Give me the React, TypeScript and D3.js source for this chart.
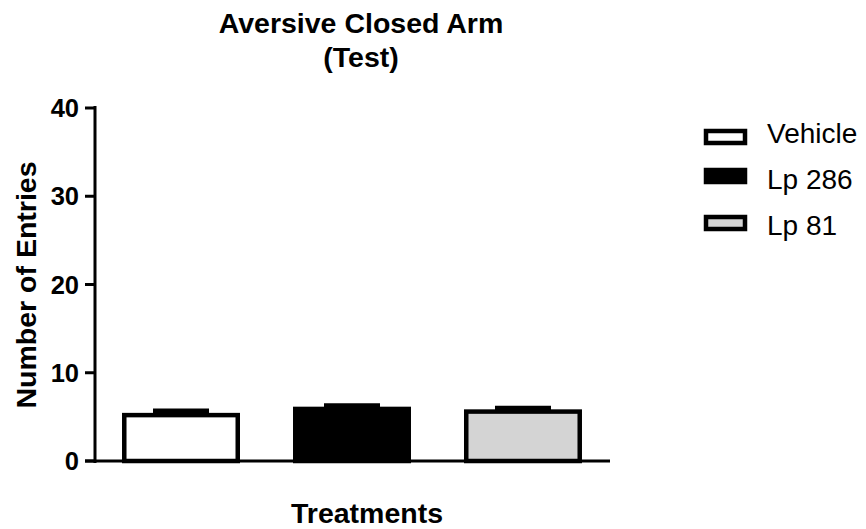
import React from "react";
import * as d3 from "d3";

const categories = ["Vehicle", "Lp 286", "Lp 81"];
const means = [5.2, 5.9, 5.6];
const sems = [0.5, 0.4, 0.4];
const fills = ["#ffffff", "#000000", "#d4d4d4"];
const yTicks = [0, 10, 20, 30, 40];

const W = 866;
const H = 529;
const font = "'Liberation Sans', Arial, Helvetica, sans-serif";

export default function App() {
  const y = d3.scaleLinear().domain([0, 40]).range([461, 108]);
  const x = d3.scaleBand().domain(categories).range([95, 609]).paddingInner(0.31).paddingOuter(0.158);
  const sw = 4.5;
  const capW = 56;
  const legendY = [137, 176, 223];
  const legendBase = [143, 189, 235];
  return (
    <svg width={W} height={H} style={{ position: "absolute", left: 0, top: 0, background: "#fff" }} fontFamily={font}>
      <text x={361} y={33} textAnchor="middle" fontSize={28.5} fontWeight="bold">Aversive Closed Arm</text>
      <text x={361} y={67} textAnchor="middle" fontSize={28.5} fontWeight="bold">(Test)</text>
      {/* bars */}
      {categories.map((c, i) => {
        const x0 = x(c)!;
        const bw = x.bandwidth();
        const cx = x0 + bw / 2;
        const top = y(means[i]);
        const et = y(means[i] + sems[i]);
        return (
          <g key={c}>
            <line x1={cx} x2={cx} y1={top} y2={et} stroke="#000" strokeWidth={3} />
            <line x1={cx - capW / 2} x2={cx + capW / 2} y1={et} y2={et} stroke="#000" strokeWidth={4.5} />
            <rect x={x0 + sw / 2} y={top} width={bw - sw} height={y(0) - top} fill={fills[i]} stroke="#000" strokeWidth={sw} />
          </g>
        );
      })}
      {/* y axis */}
      <line x1={95} x2={95} y1={106} y2={463} stroke="#000" strokeWidth={3} />
      {yTicks.map((t) => (
        <g key={t}>
          <line x1={85} x2={95} y1={y(t)} y2={y(t)} stroke="#000" strokeWidth={3} />
          <text x={79} y={y(t) + 9} textAnchor="end" fontSize={25.5} fontWeight="bold">{t}</text>
        </g>
      ))}
      {/* x axis */}
      <line x1={85} x2={610} y1={461} y2={461} stroke="#000" strokeWidth={3} />
      <text x={367} y={523} textAnchor="middle" fontSize={28.5} fontWeight="bold">Treatments</text>
      <text transform={`translate(36,285) rotate(-90)`} textAnchor="middle" fontSize={28.5} fontWeight="bold">Number of Entries</text>
      {/* legend */}
      {categories.map((c, i) => (
        <g key={"lg" + c}>
          <rect x={706} y={legendY[i] - 6} width={39} height={12} fill={fills[i]} stroke="#000" strokeWidth={4.5} />
          <text x={767} y={legendBase[i]} fontSize={28}>{c}</text>
        </g>
      ))}
    </svg>
  );
}
